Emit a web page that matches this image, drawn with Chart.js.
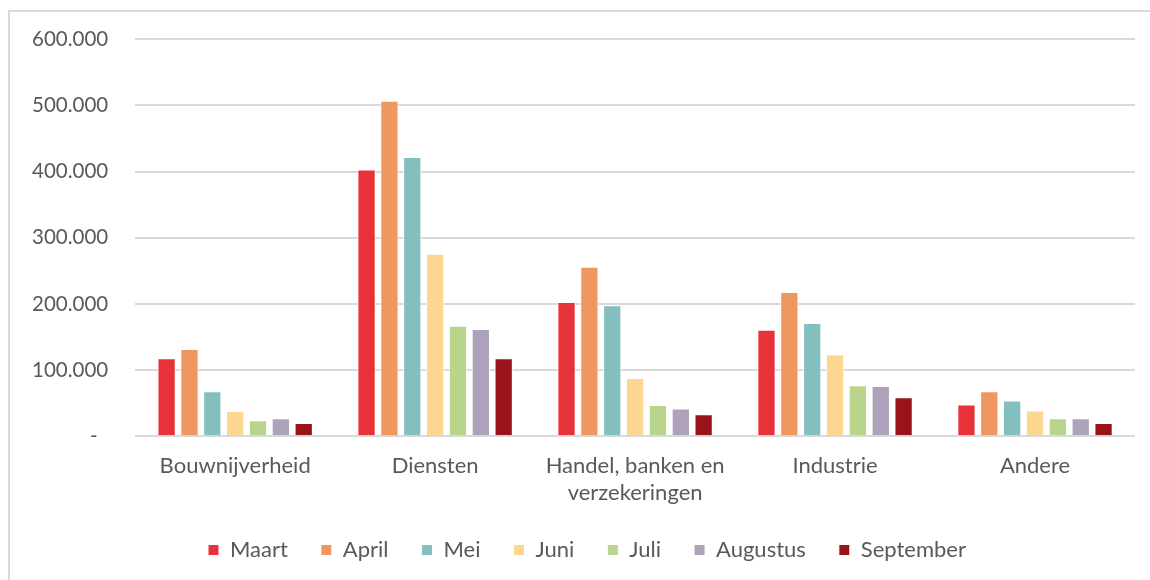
<!DOCTYPE html>
<html>
<head>
<meta charset="utf-8">
<script src="https://cdn.jsdelivr.net/npm/chart.js@4/dist/chart.umd.min.js"></script>
<style>
	html, body { margin: 0; padding: 0; background: #fff; }
	#frame {
		position: absolute; left: 8px; top: 10px; width: 1160px; height: 600px;
		border-left: 2px solid #d9d9d9; border-top: 2px solid #d9d9d9;
	}
	#wrap { position: absolute; left: 0; top: 0; width: 1150px; height: 580px; }
</style>
</head>
<body>
<div id="frame"></div>
<div id="wrap"><canvas id="chart" width="1150" height="580"></canvas></div>
<script>
const categories = ["Bouwnijverheid", "Diensten", ["Handel, banken en", "verzekeringen"], "Industrie", "Andere"];
const months = ["Maart", "April", "Mei", "Juni", "Juli", "Augustus", "September"];

const maart = [118000, 403000, 203000, 161000, 48000];
const april = [132000, 507000, 256000, 218000, 68000];
const mei = [68000, 422000, 198000, 171000, 54000];
const juni = [38000, 276000, 88000, 124000, 39000];
const juli = [24000, 167000, 47000, 77000, 27000];
const augustus = [27000, 162000, 42000, 76000, 27000];
const september = [20000, 118000, 33000, 59000, 20000];

const yTicks = [0, 100000, 200000, 300000, 400000, 500000, 600000];

const colors = ["#e8323a", "#f0975f", "#84bfbf", "#fdd78f", "#b9d58c", "#aea1ba", "#99141a"];
const series = [maart, april, mei, juni, juli, augustus, september];

const ctx = document.getElementById("chart").getContext("2d");
Chart.defaults.font.family = "Lato, 'Open Sans', sans-serif";
Chart.defaults.color = "#595959";

// nudge the legend to where Excel puts it
const legendShift = {
	id: "legendShift",
	afterLayout(chart) {
		const lg = chart.legend;
		lg.left += 17; lg.right += 17;
		lg.top -= 9; lg.bottom -= 9;
	},
};

new Chart(ctx, {
	type: "bar",
	data: {
		labels: categories,
		datasets: months.map((m, i) => ({
			label: m,
			data: series[i],
			backgroundColor: colors[i],
			borderColor: "#ffffff",
			borderWidth: 1,
			categoryPercentage: 0.8,
			barPercentage: 0.8,
		})),
	},
	options: {
		responsive: false,
		animation: false,
		layout: {
			padding: { top: 27, left: 5, right: 15, bottom: 0 },
		},
		scales: {
			x: {
				grid: { display: false },
				border: { display: false },
				ticks: {
					font: { size: 22 },
					color: "#595959",
					maxRotation: 0,
					padding: 9,
				},
			},
			y: {
				min: 0,
				max: 600000,
				border: { display: false },
				grid: { color: "#d9d9d9", lineWidth: 2, drawTicks: false },
				afterBuildTicks: (axis) => {
					axis.ticks = yTicks.map((v) => ({ value: v }));
				},
				ticks: {
					font: { size: 20.5 },
					color: "#595959",
					padding: 27,
					callback: (v) => v === 0 ? "-  " : v.toLocaleString("de-DE"),
				},
			},
		},
		plugins: {
			legend: {
				position: "bottom",
				labels: {
					font: { size: 22 },
					color: "#595959",
					boxWidth: 11,
					boxHeight: 11,
					padding: 33,
				},
			},
			tooltip: { enabled: false },
		},
	},
	plugins: [legendShift],
});
</script>
</body>
</html>
